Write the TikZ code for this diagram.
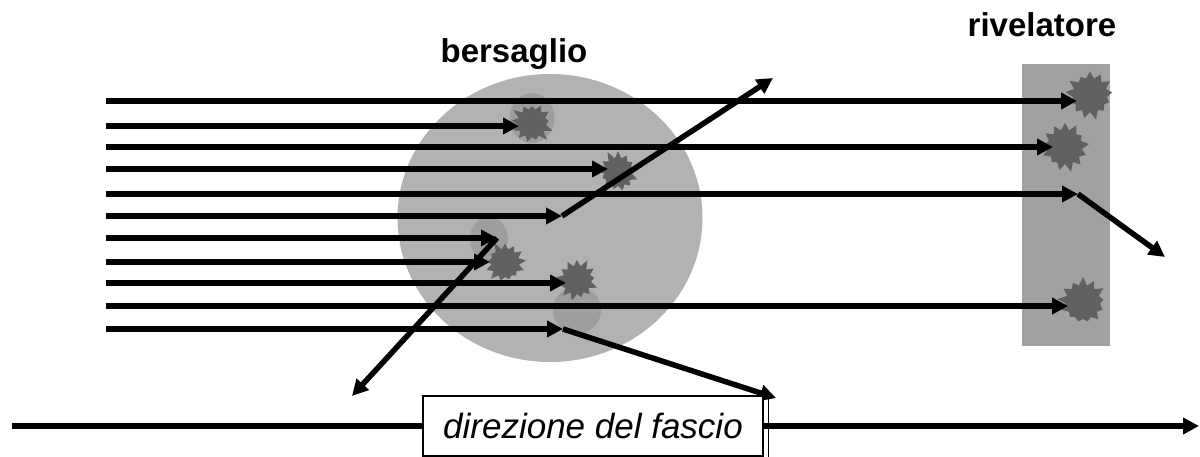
\documentclass[tikz,border=0pt]{standalone}
\usepackage{fontspec}
\setmainfont{Liberation Sans}
\usetikzlibrary{arrows.meta,shapes.geometric,shapes.symbols}
\tikzset{every picture/.style={
  >={Triangle[length=16pt,width=16pt]}  % Solid triangular tips.
  }
}

\begin{document}
\begin{tikzpicture}[
      x=1pt, y=-1pt,
      ray/.style={->, line width=5.5pt},
      hit/.style={
        starburst,
        starburst points=13,
        starburst point height=9pt,
        random starburst=#1,
        fill=black!62,
        draw=none,
        minimum size=46pt,
        inner sep=0pt
      },
      glow/.style={ellipse, fill=black!38, draw=none, inner sep=0pt},
      caption/.style={font=\fontsize{33}{36}\selectfont\bfseries, anchor=base}]

      \useasboundingbox (0,0) rectangle (1200,457);

      % Draw the target and the detector.
      \node[ellipse,fill=black!30,minimum width=305pt,minimum height=288pt] (tgt) at (550,218) {};
      \node[fill=black!37,minimum width=88pt,minimum height=282pt] (det) at (1066,205) {};

      \node[caption] (tgtname) at (514,63) {bersaglio};
      \node[caption] (detname) at (1042,37) {rivelatore};

      % Draw the nuclei that are hit.
      \node[glow,minimum width=45pt,minimum height=50pt] (glowA) at (532,118) {};
      \node[glow,minimum width=38pt,minimum height=45pt] (glowB) at (489,239) {};
      \node[glow,minimum width=48pt,minimum height=48pt] (glowC) at (577,310) {};

      \node[hit=3] (hitA) at (532,123) {};
      \node[hit=11] (hitB) at (618,172) {};
      \node[hit=5] (hitC) at (505,263) {};
      \node[hit=8] (hitD) at (577,280) {};
      \node[hit=21,minimum size=52pt] (hitE) at (1090,95) {};
      \node[hit=14,minimum size=52pt] (hitF) at (1065,147) {};
      \node[hit=17,minimum size=52pt] (hitG) at (1083,302) {};

      % Render the beam.
      \foreach \n/\y/\x in {1/101/1077, 2/126/519, 3/147/1053, 4/169/608,
          5/194/1078, 6/216/562, 7/238/497, 8/262/490, 9/283/566,
          10/306/1068, 11/329/563} {
        \coordinate (src\n) at (106,\y);
        \coordinate (stop\n) at (\x,\y);
      }
      \foreach \n in {1,...,11}
        \draw[ray] (src\n) -- (stop\n);

      % Scattered particles.
      \coordinate (out5) at (1165,257);
      \coordinate (out6) at (773,78);
      \coordinate (out7) at (352,396);
      \coordinate (out11) at (776,398);

      \draw[ray] (stop5) -- (out5);
      \draw[ray] (stop6) -- (out6);
      \draw[ray] (stop7) -- (out7);
      \draw[ray] (stop11) -- (out11);

      % Beam direction.
      \coordinate (axl) at (12,426);
      \coordinate (axr) at (1199,426);
      \draw[ray,line width=6pt] (axl) -- (axr);

      \node[draw,fill=white,line width=1.2pt,minimum width=340pt,minimum height=60pt,
        font=\fontsize{35}{40}\selectfont\itshape] (dir) at (593,426) {direzione del fascio};
      \draw[line width=1.2pt] ([xshift=5pt] dir.north east) -- ([xshift=5pt] dir.south east);

    \end{tikzpicture}
\end{document}
